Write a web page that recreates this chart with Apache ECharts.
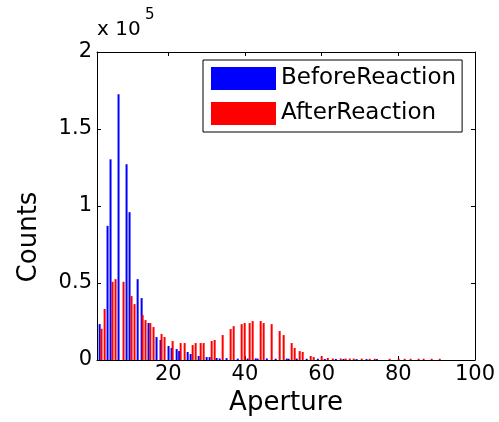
<!DOCTYPE html>
<html>
<head>
<meta charset="utf-8">
<script src="https://cdn.jsdelivr.net/npm/echarts@6/dist/echarts.min.js"></script>
<style>
html,body{margin:0;padding:0;background:#fff;}
#chart{width:499px;height:422px;}
</style>
</head>
<body>
<div id="chart"></div>
<script>
// Data
const seriesNames = ['BeforeReaction', 'AfterReaction'];
const xTicks = [20, 40, 60, 80, 100];
const yTicks = [0, 50000, 100000, 150000, 200000];

const blueX = [2.09, 4.15, 4.93, 7.02, 9.11, 9.89, 12.0, 13.04, 14.84, 16.93, 17.98, 20.06, 20.85, 22.18, 22.83, 25.05, 25.83, 27.92, 30.0, 30.78,
  32.6, 33.4, 35.2, 38.1, 40.7, 42.8, 43.3, 45.7, 48.0, 50.9, 51.4, 53.5, 56.1, 59.0, 60.8, 63.7, 65.7, 69.1, 71.7, 74.4];
const blueY = [23300, 87100, 130300, 172500, 127100, 96000, 52500, 40200, 24000, 14900, 13000, 9100, 7800, 7100, 5800, 5200, 3900, 2600, 1900, 1900,
  1300, 1000, 1200, 900, 1000, 1000, 900, 1000, 800, 900, 800, 900, 800, 800, 700, 700, 700, 600, 600, 600];

const redX = [2.58, 3.39, 5.45, 6.24, 8.32, 10.41, 11.19, 13.3, 14.06, 15.31, 16.15, 18.24, 19.02, 21.13, 23.22, 24.26, 26.35, 27.13, 28.44, 29.22,
  31.31, 32.09, 34.18, 36.26, 37.05, 39.13, 39.92, 41.22, 42.0, 44.09, 44.87, 46.96, 49.05, 50.09, 52.18, 52.96, 54.27, 55.05, 57.14, 57.92, 60.0,
  61.6, 62.9, 64.97, 66.28, 67.32, 68.37, 70.45, 72.54, 73.85, 77.75, 80.1, 81.66, 83.2, 85.3, 86.6, 88.7, 90.8];
const redY = [20300, 33100, 50800, 52500, 50800, 41500, 36300, 29200, 25900, 24000, 21400, 16900, 14900, 12300, 11000, 11000, 9700, 11000, 11000, 11000,
  12300, 13000, 16200, 20100, 22000, 23300, 24000, 24000, 25300, 25300, 24000, 23300, 18800, 16200, 11000, 7800, 5800, 5200, 2600, 1900, 2600,
  1300, 1000, 1000, 900, 900, 900, 900, 800, 800, 800, 800, 800, 800, 800, 800, 800, 800];

const FONT = 'DejaVu Sans';
const chart = echarts.init(document.getElementById('chart'), null, {renderer: 'canvas'});

const zip = (xs, ys) => xs.map((x, i) => [x, ys[i]]);
const axisLine = {show: true, onZero: false, lineStyle: {color: '#000', width: 1}};
const tickIn = {show: true, inside: true, length: 4, lineStyle: {color: '#000', width: 1}};

const option = {
  backgroundColor: '#fff',
  animation: false,
  textStyle: {fontFamily: FONT},
  grid: {left: 97, right: 24, top: 52, bottom: 62, containLabel: false},
  legend: {
    data: seriesNames,
    orient: 'vertical',
    left: 203, top: 60,
    icon: 'rect',
    itemWidth: 65, itemHeight: 23, itemGap: 12,
    padding: [7, 6, 7, 8],
    borderColor: '#000', borderWidth: 1, borderRadius: 0,
    backgroundColor: '#fff',
    textStyle: {fontFamily: FONT, fontSize: 23, color: '#000', padding: [0, 0, 0, 0]}
  },
  xAxis: [{
    type: 'value', min: 1.4, max: 100,
    position: 'bottom',
    axisLine: axisLine,
    axisTick: Object.assign({customValues: xTicks}, tickIn),
    axisLabel: {customValues: xTicks, color: '#000', fontSize: 21, fontFamily: FONT, margin: 4},
    splitLine: {show: false},
    name: 'Aperture', nameLocation: 'middle', nameGap: 25,
    nameTextStyle: {fontSize: 26, color: '#000', fontFamily: FONT}
  }, {
    type: 'value', min: 1.4, max: 100,
    position: 'top',
    axisLine: axisLine,
    axisTick: Object.assign({customValues: xTicks}, tickIn),
    axisLabel: {show: false},
    splitLine: {show: false}
  }],
  yAxis: [{
    type: 'value', min: 0, max: 200000, interval: 50000,
    position: 'left',
    axisLine: axisLine,
    axisTick: tickIn,
    axisLabel: {color: '#000', fontSize: 21, fontFamily: FONT, margin: 5,
      formatter: v => String(v / 100000)},
    splitLine: {show: false}
  }, {
    type: 'value', min: 0, max: 200000, interval: 50000,
    position: 'right',
    axisLine: axisLine,
    axisTick: tickIn,
    axisLabel: {show: false},
    splitLine: {show: false}
  }],
  graphic: [
    {type: 'text', left: 97, top: 20, style: {text: 'x 10', fontSize: 20, fontFamily: FONT, fill: '#000'}},
    {type: 'text', left: 145, top: 8, style: {text: '5', fontSize: 15, fontFamily: FONT, fill: '#000'}},
    {type: 'text', x: 29, y: 237, rotation: Math.PI / 2,
      style: {text: 'Counts', fontSize: 26, fontFamily: FONT, fill: '#000', align: 'center', verticalAlign: 'middle'}}
  ],
  series: [{
    name: seriesNames[0], type: 'bar', xAxisIndex: 0, yAxisIndex: 0,
    data: zip(blueX, blueY), barWidth: 2, barGap: '-100%',
    itemStyle: {color: '#0000ff'}
  }, {
    name: seriesNames[1], type: 'bar', xAxisIndex: 0, yAxisIndex: 0,
    data: zip(redX, redY), barWidth: 2, barGap: '-100%',
    itemStyle: {color: '#ff0000'}
  }]
};
chart.setOption(option);
</script>
</body>
</html>
